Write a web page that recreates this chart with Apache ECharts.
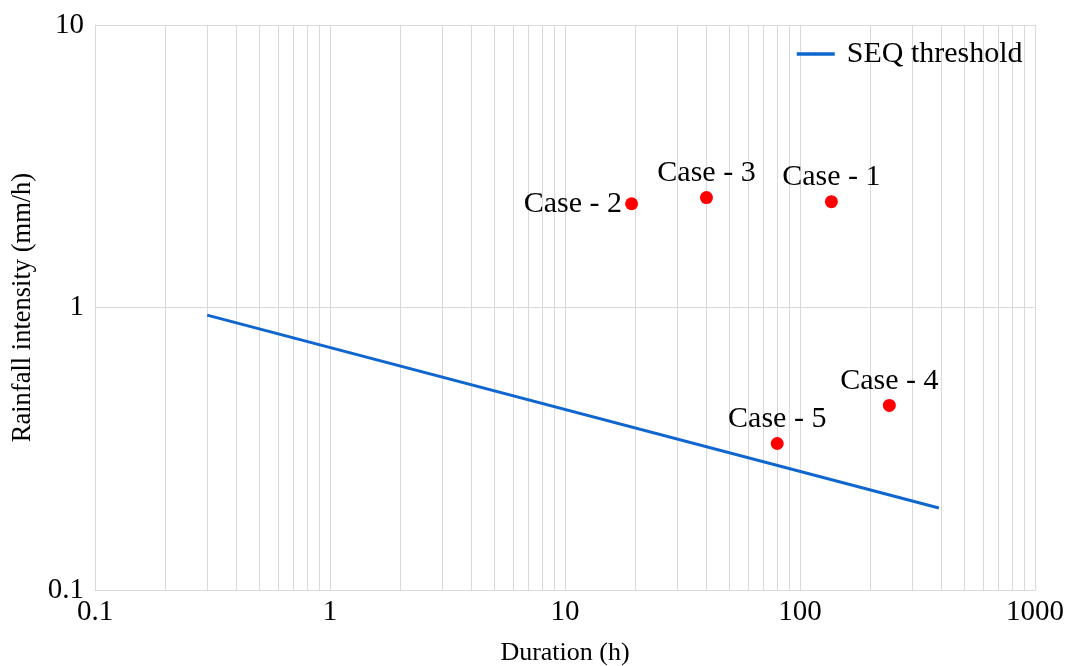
<!DOCTYPE html>
<html>
<head>
<meta charset="utf-8">
<script src="https://cdn.jsdelivr.net/npm/echarts@6/dist/echarts.min.js"></script>
<style>
html, body { margin: 0; padding: 0; background: #fff; }
#chart { width: 1067px; height: 666px; }
</style>
</head>
<body>
<div id="chart"></div>
<script>
// SEQ threshold line (two ends, straight on log-log)
const thresholdDuration = [0.3, 390];
const thresholdIntensity = [0.94, 0.195];

// observed cases
const caseNames = ['Case - 1', 'Case - 2', 'Case - 3', 'Case - 4', 'Case - 5'];
const caseDuration = [136, 19.2, 40, 240, 80];
const caseIntensity = [2.37, 2.33, 2.45, 0.45, 0.33];
const caseLabelPos = ['top', 'left', 'top', 'top', 'top'];

// minor vertical grid lines
const decades = [0.1, 1, 10, 100];
const minorSteps = [2, 3, 4, 5, 6, 7, 8, 9];

const chartDom = document.getElementById('chart');
const myChart = echarts.init(chartDom);
const font = '"Liberation Serif", "Times New Roman", serif';

const minorLines = [];
decades.forEach(d => minorSteps.forEach(k => minorLines.push({ xAxis: +(d * k).toPrecision(3) })));

const option = {
    animation: false,
    textStyle: { fontFamily: font, color: '#000' },
    grid: { left: 95, right: 32, top: 25, bottom: 76, containLabel: false, outerBoundsMode: 'none' },
    legend: {
        data: ['SEQ threshold'],
        left: 790,
        top: 34,
        itemWidth: 38,
        itemHeight: 3,
        lineStyle: { width: 3.5 },
        textStyle: { fontFamily: font, fontSize: 30, color: '#000', padding: [0, 0, 0, 7] }
    },
    xAxis: {
        type: 'log',
        logBase: 10,
        min: 0.1,
        max: 1000,
        name: 'Duration (h)',
        nameLocation: 'middle',
        nameGap: 50,
        nameTextStyle: { fontFamily: font, fontSize: 26, color: '#000' },
        axisLine: { show: true, lineStyle: { color: '#d9d9d9' } },
        axisTick: { show: false },
        axisLabel: { fontFamily: font, fontSize: 29, color: '#000', margin: 8, formatter: v => String(v) },
        splitLine: { show: true, lineStyle: { color: '#d9d9d9' } }
    },
    yAxis: {
        type: 'log',
        logBase: 10,
        min: 0.1,
        max: 10,
        name: 'Rainfall intensity (mm/h)',
        nameLocation: 'middle',
        nameGap: 54,
        nameTextStyle: { fontFamily: font, fontSize: 26.5, color: '#000' },
        axisLine: { show: true, lineStyle: { color: '#d9d9d9' } },
        axisTick: { show: false },
        axisLabel: { fontFamily: font, fontSize: 29, color: '#000', margin: 11, formatter: v => String(v) },
        splitLine: { show: true, lineStyle: { color: '#d9d9d9' } }
    },
    series: [
        {
            name: 'grid-minor',
            type: 'line',
            data: [],
            silent: true,
            z: 0,
            markLine: {
                silent: true,
                symbol: 'none',
                z: 0,
                label: { show: false },
                lineStyle: { color: '#d9d9d9', width: 1, type: 'solid' },
                data: minorLines
            }
        },
        {
            name: 'SEQ threshold',
            type: 'line',
            symbol: 'none',
            lineStyle: { color: '#0f66cf', width: 3 },
            itemStyle: { color: '#0f66cf' },
            data: thresholdDuration.map((d, i) => [d, thresholdIntensity[i]]),
            z: 3
        },
        {
            name: 'Cases',
            type: 'scatter',
            symbolSize: 13,
            itemStyle: { color: '#ff0000', opacity: 1 },
            data: caseNames.map((n, i) => ({
                name: n,
                value: [caseDuration[i], caseIntensity[i]],
                label: { position: caseLabelPos[i] }
            })),
            label: {
                show: true,
                formatter: '{b}',
                fontFamily: font,
                fontSize: 30,
                color: '#000',
                opacity: 1,
                textBorderWidth: 0,
                distance: 3
            },
            z: 4
        }
    ]
};

myChart.setOption(option);
</script>
</body>
</html>
